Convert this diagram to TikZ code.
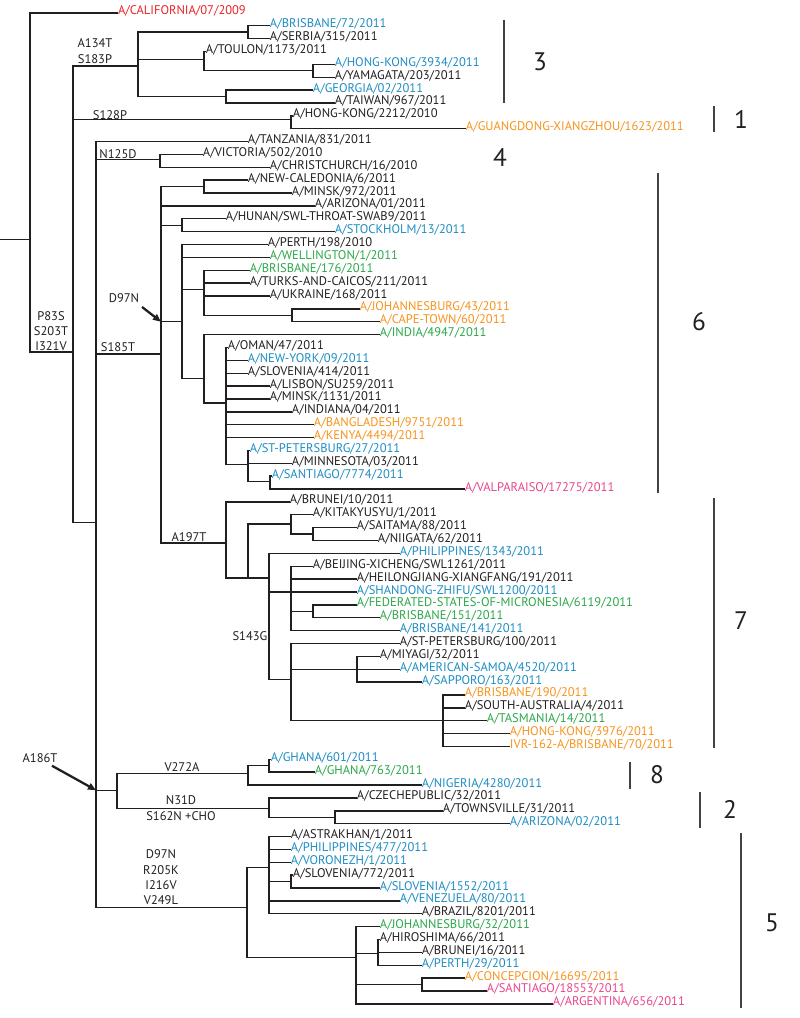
\documentclass[tikz,border=0pt]{standalone}
\usepackage{fontspec}
\setmainfont{PT Sans}
\usepackage{xcolor}
\usepackage{tikz}
\usetikzlibrary{arrows.meta}
\definecolor{inkblack}{HTML}{231F20}
\definecolor{strblue}{HTML}{1E8DC3}
\definecolor{strgreen}{HTML}{2BA84A}
\definecolor{strorange}{HTML}{F7941D}
\definecolor{strpink}{HTML}{E9458D}
\definecolor{strred}{HTML}{EC2227}
\tikzset{
  leaf/.style={anchor=west, inner sep=0pt, outer sep=0pt, text height=6.6pt, text depth=3.6pt,
    font=\fontsize{9.4}{10}\selectfont, text=inkblack},
  bl/.style={leaf, text=strblue},
  gr/.style={leaf, text=strgreen},
  or/.style={leaf, text=strorange},
  pk/.style={leaf, text=strpink},
  rd/.style={leaf, text=strred},
  br/.style={line width=1.05pt, draw=inkblack},
  mut/.style={inner sep=0pt, font=\fontsize{9.4}{10}\selectfont, text=inkblack},
  grpbar/.style={line width=1.2pt, draw=inkblack!85},
  grpnum/.style={inner sep=0pt, font=\fontsize{19}{20}\selectfont, text=inkblack},
  arr/.style={line width=1.7pt, draw=inkblack, -{Triangle[length=6pt,width=5pt]}}
}

\begin{document}
\begin{tikzpicture}[x=0.75pt,y=-9.6525pt]
\path[fill=white,use as bounding box] (0,0) rectangle (800,79.1);

% strains, one row each
\node[rd] (cal) at (118,1) {A/CALIFORNIA/07/2009};
\node[bl] (bri72) at (270,2) {A/BRISBANE/72/2011};
\node[leaf] (ser) at (270,3) {A/SERBIA/315/2011};
\node[leaf] (tou) at (206,4) {A/TOULON/1173/2011};
\node[bl] (hk3934) at (335,5) {A/HONG-KONG/3934/2011};
\node[leaf] (yam) at (335,6) {A/YAMAGATA/203/2011};
\node[bl] (geo) at (313,7) {A/GEORGIA/02/2011};
\node[leaf] (tai) at (335,8) {A/TAIWAN/967/2011};
\node[leaf] (hk2212) at (293,9) {A/HONG-KONG/2212/2010};
\node[or] (gua) at (466,10) {A/GUANGDONG-XIANGZHOU/1623/2011};
\node[leaf] (tan) at (248,11) {A/TANZANIA/831/2011};
\node[leaf] (vic) at (203,12) {A/VICTORIA/502/2010};
\node[leaf] (chr) at (270,13) {A/CHRISTCHURCH/16/2010};
\node[leaf] (nca) at (248,14) {A/NEW-CALEDONIA/6/2011};
\node[leaf] (min972) at (292,15) {A/MINSK/972/2011};
\node[leaf] (ari01) at (315,16) {A/ARIZONA/01/2011};
\node[leaf] (hun) at (226,17) {A/HUNAN/SWL-THROAT-SWAB9/2011};
\node[bl] (sto) at (335,18) {A/STOCKHOLM/13/2011};
\node[leaf] (per198) at (268,19) {A/PERTH/198/2010};
\node[gr] (wel) at (270,20) {A/WELLINGTON/1/2011};
\node[gr] (bri176) at (250,21) {A/BRISBANE/176/2011};
\node[leaf] (tur) at (250,22) {A/TURKS-AND-CAICOS/211/2011};
\node[leaf] (ukr) at (270,23) {A/UKRAINE/168/2011};
\node[or] (joh43) at (360,24) {A/JOHANNESBURG/43/2011};
\node[or] (cap) at (380,25) {A/CAPE-TOWN/60/2011};
\node[gr] (ind) at (380,26) {A/INDIA/4947/2011};
\node[leaf] (oma) at (228,27) {A/OMAN/47/2011};
\node[bl] (nyo) at (248,28) {A/NEW-YORK/09/2011};
\node[leaf] (slo414) at (248,29) {A/SLOVENIA/414/2011};
\node[leaf] (lis) at (270,30) {A/LISBON/SU259/2011};
\node[leaf] (min1131) at (270,31) {A/MINSK/1131/2011};
\node[leaf] (inda) at (292,32) {A/INDIANA/04/2011};
\node[or] (ban) at (314,33) {A/BANGLADESH/9751/2011};
\node[or] (ken) at (314,34) {A/KENYA/4494/2011};
\node[bl] (stp27) at (250,35) {A/ST-PETERSBURG/27/2011};
\node[leaf] (mnn) at (292,36) {A/MINNESOTA/03/2011};
\node[bl] (san7774) at (272,37) {A/SANTIAGO/7774/2011};
\node[pk] (val) at (465,38) {A/VALPARAISO/17275/2011};
\node[leaf] (bru10) at (290,39) {A/BRUNEI/10/2011};
\node[leaf] (kit) at (313,40) {A/KITAKYUSYU/1/2011};
\node[leaf] (sai) at (357,41) {A/SAITAMA/88/2011};
\node[leaf] (nii) at (378,42) {A/NIIGATA/62/2011};
\node[bl] (phi1343) at (400,43) {A/PHILIPPINES/1343/2011};
\node[leaf] (bei) at (313,44) {A/BEIJING-XICHENG/SWL1261/2011};
\node[leaf] (hei) at (357,45) {A/HEILONGJIANG-XIANGFANG/191/2011};
\node[bl] (sha) at (357,46) {A/SHANDONG-ZHIFU/SWL1200/2011};
\node[gr] (mic) at (357,47) {A/FEDERATED-STATES-OF-MICRONESIA/6119/2011};
\node[gr] (bri151) at (380,48) {A/BRISBANE/151/2011};
\node[bl] (bri141) at (400,49) {A/BRISBANE/141/2011};
\node[leaf] (stp100) at (400,50) {A/ST-PETERSBURG/100/2011};
\node[leaf] (miy) at (380,51) {A/MIYAGI/32/2011};
\node[bl] (ams) at (400,52) {A/AMERICAN-SAMOA/4520/2011};
\node[bl] (sap) at (422,53) {A/SAPPORO/163/2011};
\node[or] (bri190) at (465,54) {A/BRISBANE/190/2011};
\node[leaf] (sau) at (465,55) {A/SOUTH-AUSTRALIA/4/2011};
\node[gr] (tas) at (487,56) {A/TASMANIA/14/2011};
\node[or] (hk3976) at (510,57) {A/HONG-KONG/3976/2011};
\node[or] (ivr) at (510,58) {IVR-162-A/BRISBANE/70/2011};
\node[bl] (gh601) at (271,59) {A/GHANA/601/2011};
\node[gr] (gh763) at (315,60) {A/GHANA/763/2011};
\node[bl] (nig) at (422,61) {A/NIGERIA/4280/2011};
\node[leaf] (cze) at (357,62) {A/CZECHEPUBLIC/32/2011};
\node[leaf] (tow) at (443,63) {A/TOWNSVILLE/31/2011};
\node[bl] (ari02) at (510,64) {A/ARIZONA/02/2011};
\node[leaf] (ast) at (291,65) {A/ASTRAKHAN/1/2011};
\node[bl] (phi477) at (291,66) {A/PHILIPPINES/477/2011};
\node[bl] (vor) at (291,67) {A/VORONEZH/1/2011};
\node[leaf] (slo772) at (293,68) {A/SLOVENIA/772/2011};
\node[bl] (slo1552) at (380,69) {A/SLOVENIA/1552/2011};
\node[bl] (ven) at (400,70) {A/VENEZUELA/80/2011};
\node[leaf] (bra) at (422,71) {A/BRAZIL/8201/2011};
\node[gr] (joh32) at (380,72) {A/JOHANNESBURG/32/2011};
\node[leaf] (hir) at (380,73) {A/HIROSHIMA/66/2011};
\node[leaf] (bru16) at (422,74) {A/BRUNEI/16/2011};
\node[bl] (per29) at (422,75) {A/PERTH/29/2011};
\node[or] (con) at (465,76) {A/CONCEPCION/16695/2011};
\node[pk] (san18553) at (487,77) {A/SANTIAGO/18553/2011};
\node[pk] (arg) at (553,78) {A/ARGENTINA/656/2011};

% branch points
\coordinate (stem) at (0,18.6);
\coordinate (root) at (30,18.6);
\coordinate (n1) at (73,27.35);
\coordinate (c3) at (138,5.13);
\coordinate (a1) at (248,2.5);
\coordinate (a2) at (204,4.6);
\coordinate (a3) at (313,5.5);
\coordinate (a4) at (226,7.5);
\coordinate (b1) at (291,9.3);
\coordinate (n2) at (96,40.6);
\coordinate (d1) at (160,12.4);
\coordinate (d2) at (161,27.5);
\coordinate (e1) at (204,14.5);
\coordinate (e2) at (182,17.5);
\coordinate (e3) at (182,25.0);
\coordinate (e4) at (204,22.5);
\coordinate (e5) at (292,24.5);
\coordinate (e6) at (204,29.4);
\coordinate (e7) at (226,31.3);
\coordinate (e8) at (248,36.1);
\coordinate (e9) at (270,37.4);
\coordinate (f1) at (226,42.2);
\coordinate (f2) at (248,44.9);
\coordinate (f3) at (291,40.7);
\coordinate (f4) at (313,41.5);
\coordinate (f5) at (269,44.9);
\coordinate (f6) at (291,46);
\coordinate (f7) at (313,47.5);
\coordinate (f8) at (291,52.8);
\coordinate (f9) at (357,52);
\coordinate (f10) at (443,56);
\coordinate (g1) at (117,61.4);
\coordinate (g2) at (248,60.1);
\coordinate (g3) at (269,59.5);
\coordinate (g4) at (269,62.8);
\coordinate (g5) at (335,63.5);
\coordinate (h1) at (247,70.5);
\coordinate (h2) at (269,67.4);
\coordinate (h3) at (291,68.5);
\coordinate (h4) at (356,74.4);
\coordinate (h5) at (378,74.1);
\coordinate (h6) at (422,76.5);

% tree
\draw[br] (stem) -- (root) (root) |- (cal.west) (root) |- (n1);
\draw[br] (n1) |- (c3) (n1) |- (b1) (n1) |- (n2);
\draw[br] (c3) |- (a1) (c3) |- (a2) (c3) |- (a4);
\draw[br] (a1) |- (bri72.west) (a1) |- (ser.west);
\draw[br] (a2) |- (tou.west) (a2) |- (a3);
\draw[br] (a3) |- (hk3934.west) (a3) |- (yam.west);
\draw[br] (a4) |- (geo.west) (a4) |- (tai.west);
\draw[br] (b1) |- (hk2212.west) (b1) |- (gua.west);
\draw[br] (n2) |- (tan.west) (n2) |- (d1) (n2) |- (d2) (n2) |- (g1) (n2) |- (h1);
\draw[br] (d1) |- (vic.west) (d1) |- (chr.west);
\draw[br] (d2) |- (e1) (d2) |- (ari01.west) (d2) |- (e2) (d2) |- (e3) (d2) |- (f1);
\draw[br] (e1) |- (nca.west) (e1) |- (min972.west);
\draw[br] (e2) |- (hun.west) (e2) |- (sto.west);
\draw[br] (e3) |- (per198.west) (e3) |- (wel.west) (e3) |- (e4) (e3) |- (e6);
\draw[br] (e4) |- (bri176.west) (e4) |- (tur.west) (e4) |- (ukr.west) (e4) |- (e5);
\draw[br] (e5) |- (joh43.west) (e5) |- (cap.west);
\draw[br] (e6) |- (ind.west) (e6) |- (e7);
\draw[br] (e7) |- (oma.west) (e7) |- (nyo.west) (e7) |- (slo414.west) (e7) |- (lis.west)
  (e7) |- (min1131.west) (e7) |- (inda.west) (e7) |- (ban.west) (e7) |- (ken.west) (e7) |- (e8);
\draw[br] (e8) |- (stp27.west) (e8) |- (mnn.west) (e8) |- (e9);
\draw[br] (e9) |- (san7774.west) (e9) |- (val.west);
\draw[br] (f1) |- (bru10.west) (f1) |- (f2);
\draw[br] (f2) |- (f3) (f2) |- (f5);
\draw[br] (f3) |- (kit.west) (f3) |- (f4);
\draw[br] (f4) |- (sai.west) (f4) |- (nii.west);
\draw[br] (f5) |- (phi1343.west) (f5) |- (f6) (f5) |- (f8);
\draw[br] (f6) |- (bei.west) (f6) |- (hei.west) (f6) |- (sha.west) (f6) |- (f7) (f6) |- (bri141.west);
\draw[br] (f7) |- (mic.west) (f7) |- (bri151.west);
\draw[br] (f8) |- (stp100.west) (f8) |- (f9) (f8) |- (f10);
\draw[br] (f9) |- (miy.west) (f9) |- (ams.west) (f9) |- (sap.west);
\draw[br] (f10) |- (bri190.west) (f10) |- (sau.west) (f10) |- (tas.west) (f10) |- (hk3976.west) (f10) |- (ivr.west);
\draw[br] (g1) |- (g2) (g1) |- (g4);
\draw[br] (g2) |- (g3) (g2) |- (nig.west);
\draw[br] (g3) |- (gh601.west) (g3) |- (gh763.west);
\draw[br] (g4) |- (cze.west) (g4) |- (g5);
\draw[br] (g5) |- (tow.west) (g5) |- (ari02.west);
\draw[br] (h1) |- (h2) (h1) |- (h4);
\draw[br] (h2) |- (ast.west) (h2) |- (phi477.west) (h2) |- (vor.west) (h2) |- (h3) (h2) |- (ven.west) (h2) |- (bra.west);
\draw[br] (h3) |- (slo772.west) (h3) |- (slo1552.west);
\draw[br] (h4) |- (joh32.west) (h4) |- (h5) (h4) |- (h6) (h4) |- (arg.west);
\draw[br] (h5) |- (hir.west) (h5) |- (bru16.west) (h5) |- (per29.west);
\draw[br] (h6) |- (con.west) (h6) |- (san18553.west);

% substitutions on branches
\node[mut] at (95,3.37) {A134T};
\node[mut] at (95,4.59) {S183P};
\node[mut] at (110,8.94) {S128P};
\node[mut] at (118,11.97) {N125D};
\node[mut] at (51,24.55) {P83S};
\node[mut] at (51,25.72) {S203T};
\node[mut] at (51,26.9) {I321V};
\node[mut] at (118,26.96) {S185T};
\node[mut] (d97n) at (124,23.2) {D97N};
\node[mut] at (189,41.7) {A197T};
\node[mut] at (250,49.4) {S143G};
\node[mut] (a186t) at (40,58.9) {A186T};
\node[mut] at (182,59.6) {V272A};
\node[mut] at (181,62.2) {N31D};
\node[mut] at (181,63.4) {S162N +CHO};
\node[mut] at (161,66.4) {D97N};
\node[mut] at (161,67.6) {R205K};
\node[mut] at (161,68.8) {I216V};
\node[mut] at (161,69.95) {V249L};

\coordinate (d97tail) at (142,23.85);
\coordinate (a186tail) at (52,59.5);
\draw[arr] (d97tail) -- (d2 |- e3);
\draw[arr] (a186tail) -- (n2 |- g1);

% clade bars
\draw[grpbar] (504,1.55) -- (504,8.0);
\node[grpnum] at (540,4.8) {3};
\draw[grpbar] (714,8.24) -- (714,10.26);
\node[grpnum] at (741,9.3) {1};
\node[grpnum] at (500,12.2) {4};
\draw[grpbar] (658,13.44) -- (658,38.3);
\node[grpnum] at (699,25.0) {6};
\draw[grpbar] (714,38.7) -- (714,58.1);
\node[grpnum] at (741,48.2) {7};
\draw[grpbar] (630,59.2) -- (630,61.3);
\node[grpnum] at (657,60.2) {8};
\draw[grpbar] (700,61.5) -- (700,64.3);
\node[grpnum] at (730,62.9) {2};
\draw[grpbar] (741,64.7) -- (741,78.3);
\node[grpnum] at (772,71.7) {5};
\end{tikzpicture}
\end{document}
